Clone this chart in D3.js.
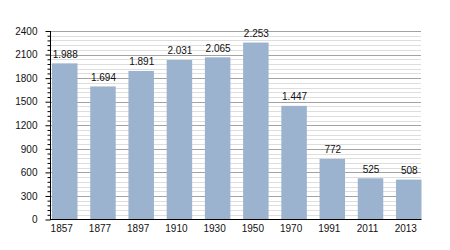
<!DOCTYPE html>
<html lang="en">
	<head>
		<meta charset="utf-8">
		<title>Population bars</title>
		<script src="https://d3js.org/d3.v7.min.js" charset="utf-8"></script>
		<style type="text/css">
		body {
		margin: 0;
		background: #fff;
		}
		.text-styling {
		font-family: "Liberation Sans", Arial, Helvetica, sans-serif;
		font-size: 10px;
		fill: #111;
		}
		</style>
	</head>

	<body>
		<div id="chart">
		</div>

		<script>
			var width = 450;
			var height = 250;

			// data
			var years = ["1857", "1877", "1897", "1910", "1930", "1950", "1970", "1991", "2011", "2013"];
			var population = [1988, 1694, 1891, 2031, 2065, 2253, 1447, 772, 525, 508];
			var valueLabels = ["1.988", "1.694", "1.891", "2.031", "2.065", "2.253", "1.447", "772", "525", "508"];
			var yTicks = [0, 300, 600, 900, 1200, 1500, 1800, 2100, 2400];

			var svg = d3.select("div#chart")
				.append("svg")
				.attr("width", width)
				.attr("height", height);

			var x = d3.scaleBand()
				.domain(years)
				.range([52, 421.5])
				.paddingInner(0.333)
				.paddingOuter(0);

			var y = d3.scaleLinear()
				.domain([0, 2400])
				.range([219.5, 31]);

			var minorTicks = d3.range(0, 2401, 60);

//gridlines
			svg.append("g")
				.selectAll("line")
				.data(minorTicks.filter(function(d) { return d % 300 != 0; }))
				.enter().append("line")
				.attr("x1", 50)
				.attr("x2", 421)
				.attr("y1", function(d) { return Math.round(y(d)) + 0.5; })
				.attr("y2", function(d) { return Math.round(y(d)) + 0.5; })
				.attr("stroke", "#dedede")
				.attr("stroke-width", 1);

			svg.append("g")
				.selectAll("line")
				.data(yTicks.filter(function(d) { return d > 0; }))
				.enter().append("line")
				.attr("x1", 50)
				.attr("x2", 421)
				.attr("y1", function(d) { return Math.round(y(d)) + 0.5; })
				.attr("y2", function(d) { return Math.round(y(d)) + 0.5; })
				.attr("stroke", "#a3a3a3")
				.attr("stroke-width", 1);

//bars
			svg.append("g")
				.selectAll("rect")
				.data(population)
				.enter().append("rect")
				.attr("x", function(d, i) { return x(years[i]); })
				.attr("width", x.bandwidth())
				.attr("y", function(d) { return y(d); })
				.attr("height", function(d) { return y(0) - y(d); })
				.attr("fill", "#9bb3ce");

			svg.append("g")
				.selectAll("text")
				.data(population)
				.enter().append("text")
				.attr("class", "text-styling")
				.attr("x", function(d, i) { return x(years[i]) + x.bandwidth() / 2 + 0.5; })
				.attr("y", function(d) { return y(d) - 5.5; })
				.attr("text-anchor", "middle")
				.text(function(d, i) { return valueLabels[i]; });

//axes
			var yAxis = d3.axisLeft(y)
				.tickValues(yTicks)
				.tickSize(5)
				.tickPadding(8)
				.tickFormat(d3.format("d"));

			var yMinor = d3.axisLeft(y)
				.tickValues(minorTicks.filter(function(d) { return d % 300 != 0; }))
				.tickSize(3)
				.tickFormat("");

			var ga = svg.append("g")
				.attr("transform", "translate(50.5,0)")
				.call(yAxis);
			ga.select(".domain").remove();
			ga.selectAll("line").attr("stroke", "#000");
			ga.selectAll("text")
				.attr("class", "text-styling")
				.attr("font-family", null)
				.attr("font-size", null)
				.attr("fill", null);

			var gm = svg.append("g")
				.attr("transform", "translate(50.5,0)")
				.call(yMinor);
			gm.select(".domain").remove();
			gm.selectAll("line").attr("stroke", "#000");

			svg.append("line")
				.attr("x1", 50.5).attr("x2", 50.5)
				.attr("y1", 31).attr("y2", 220)
				.attr("stroke", "#000");

			svg.append("line")
				.attr("x1", 50).attr("x2", 421.5)
				.attr("y1", 219.5).attr("y2", 219.5)
				.attr("stroke", "#000");

			svg.append("g")
				.selectAll("text")
				.data(years)
				.enter().append("text")
				.attr("class", "text-styling")
				.attr("x", function(d) { return x(d) + x.bandwidth() / 2 - 3; })
				.attr("y", 232)
				.attr("text-anchor", "middle")
				.text(function(d) { return d; });
		</script>
	</body>
</html>
